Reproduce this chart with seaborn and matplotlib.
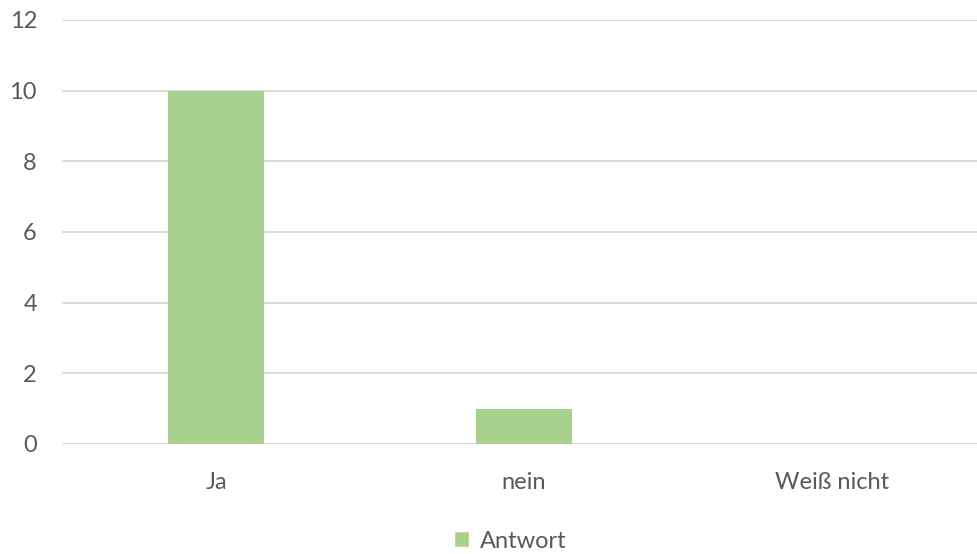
import matplotlib
matplotlib.use("Agg")
import matplotlib.pyplot as plt
import seaborn as sns
import pandas as pd
from matplotlib.patches import Patch

categories = ["Ja", "nein", "Weiß nicht"]
values = [10, 1, 0]
series_name = "Antwort"
yticks = [0, 2, 4, 6, 8, 10, 12]

sns.set_theme(style="white")
plt.rcParams['font.family'] = ['Lato', 'DejaVu Sans']

df = pd.DataFrame({"Kategorie": categories, "Wert": values})

fig = plt.figure(figsize=(9.77, 5.54), dpi=100)
ax = fig.add_axes([62/977, 1-444/554, 924/977, (444-20)/554])

color = "#A9D18E"
sns.barplot(data=df, x="Kategorie", y="Wert", color=color, width=0.312, ax=ax,
            saturation=1, edgecolor="none")

ax.set_ylim(0, 12)
ax.set_xlim(-0.5, 2.5)
ax.set_yticks(yticks)
ax.set_yticklabels([str(t) for t in yticks])
ax.yaxis.grid(True, color="#D9D9D9", linewidth=1.3)
ax.set_axisbelow(True)
for s in ax.spines.values():
    s.set_visible(False)
ax.set_xlabel("")
ax.set_ylabel("")
ax.tick_params(axis="y", length=0, pad=18, labelsize=17, labelcolor="#595959")
ax.tick_params(axis="x", length=0, pad=20, labelsize=17, labelcolor="#595959")
ax.axhline(0, color="#D9D9D9", linewidth=1.3, zorder=0.5)

fig.legend(handles=[Patch(facecolor=color, label=series_name)], loc="center",
           bbox_to_anchor=(510/977, 1-541/554), frameon=False, fontsize=17,
           handlelength=0.65, handleheight=0.65, handletextpad=0.45,
           labelcolor="#595959")

fig.savefig("out.png", dpi=100)
